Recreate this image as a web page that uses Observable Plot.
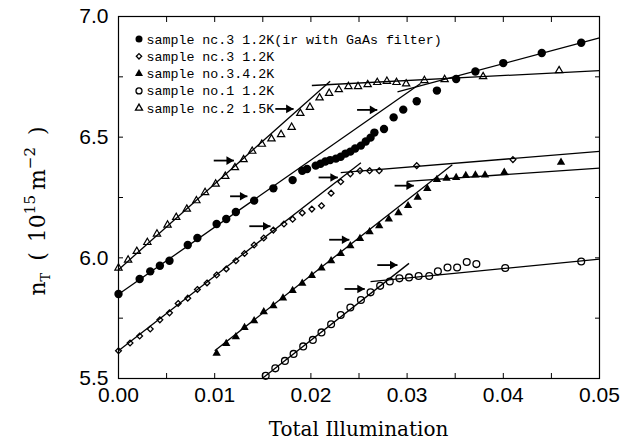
<!DOCTYPE html>
<html><head><meta charset="utf-8">
<script src="https://cdn.jsdelivr.net/npm/d3@7"></script>
<script src="https://cdn.jsdelivr.net/npm/@observablehq/plot@0.6"></script>
<style>
body{margin:0;background:#fff;}
#chart{width:634px;height:440px;}
</style></head><body><div id="chart"></div>
<script>
// ---- data (x = total illumination, y = n_T in 10^15 m^-2) ----
const seriesNames = [
  "sample nc.3 1.2K(ir with GaAs filter)",
  "sample nc.3 1.2K",
  "sample no.3.4.2K",
  "sample no.1 1.2K",
  "sample nc.2 1.5K"
];
const xTicks = [0, 0.005, 0.01, 0.015, 0.02, 0.025, 0.03, 0.035, 0.04, 0.045, 0.05];
const xTickLabels = ["0.00", "", "0.01", "", "0.02", "", "0.03", "", "0.04", "", "0.05"];
const yTicks = [5.5, 5.75, 6.0, 6.25, 6.5, 6.75, 7.0];
const yTickLabels = ["5.5", "", "6.0", "", "6.5", "", "7.0"];

const s3_12K_GaAs = [[0.0000,5.850],[0.0022,5.912],[0.0033,5.944],[0.0043,5.967],[0.0053,5.988],[0.0072,6.053],[0.0082,6.082],[0.0102,6.140],[0.0112,6.161],[0.0122,6.190],[0.0141,6.237],[0.0161,6.288],[0.0181,6.322],[0.0191,6.361],[0.0196,6.368],[0.0205,6.382],[0.0210,6.390],[0.0215,6.399],[0.0220,6.405],[0.0226,6.411],[0.0231,6.419],[0.0236,6.432],[0.0241,6.440],[0.0246,6.453],[0.0252,6.465],[0.0257,6.482],[0.0262,6.498],[0.0266,6.519],[0.0276,6.534],[0.0286,6.582],[0.0296,6.614],[0.0310,6.649],[0.0331,6.693],[0.0351,6.741],[0.0371,6.772],[0.0400,6.807],[0.0440,6.849],[0.0481,6.891]];
const s3_12K = [[0.0000,5.615],[0.0012,5.647],[0.0022,5.676],[0.0033,5.705],[0.0043,5.743],[0.0053,5.772],[0.0062,5.811],[0.0072,5.833],[0.0082,5.869],[0.0092,5.896],[0.0102,5.929],[0.0112,5.954],[0.0122,5.988],[0.0131,6.018],[0.0141,6.053],[0.0151,6.082],[0.0161,6.115],[0.0172,6.140],[0.0181,6.160],[0.0191,6.186],[0.0201,6.202],[0.0211,6.216],[0.0221,6.268],[0.0231,6.315],[0.0241,6.348],[0.0251,6.361],[0.0261,6.361],[0.0271,6.361],[0.0310,6.382],[0.0410,6.407]];
const s3_42K = [[0.0102,5.604],[0.0112,5.645],[0.0122,5.673],[0.0131,5.711],[0.0141,5.739],[0.0151,5.776],[0.0161,5.801],[0.0171,5.833],[0.0181,5.864],[0.0191,5.894],[0.0201,5.926],[0.0211,5.958],[0.0221,5.988],[0.0231,6.018],[0.0241,6.050],[0.0251,6.080],[0.0261,6.108],[0.0271,6.133],[0.0281,6.161],[0.0291,6.186],[0.0301,6.216],[0.0311,6.251],[0.0321,6.287],[0.0331,6.324],[0.0341,6.329],[0.0351,6.333],[0.0361,6.341],[0.0371,6.343],[0.0381,6.343],[0.0401,6.354],[0.0460,6.396]];
const s1_12K = [[0.0153,5.511],[0.0163,5.542],[0.0173,5.573],[0.0182,5.602],[0.0192,5.633],[0.0202,5.660],[0.0211,5.691],[0.0221,5.725],[0.0231,5.763],[0.0241,5.794],[0.0252,5.825],[0.0262,5.857],[0.0272,5.884],[0.0282,5.902],[0.0292,5.915],[0.0302,5.919],[0.0312,5.925],[0.0323,5.925],[0.0332,5.944],[0.0342,5.960],[0.0352,5.960],[0.0362,5.983],[0.0372,5.974],[0.0402,5.958],[0.0481,5.985]];
const s2_15K = [[0.0000,5.958],[0.0010,5.991],[0.0019,6.027],[0.0030,6.064],[0.0040,6.099],[0.0051,6.136],[0.0060,6.168],[0.0071,6.202],[0.0081,6.237],[0.0090,6.271],[0.0101,6.306],[0.0111,6.338],[0.0121,6.374],[0.0130,6.407],[0.0139,6.442],[0.0149,6.471],[0.0159,6.493],[0.0169,6.511],[0.0180,6.541],[0.0189,6.599],[0.0199,6.624],[0.0209,6.663],[0.0219,6.682],[0.0229,6.697],[0.0239,6.710],[0.0249,6.710],[0.0259,6.718],[0.0269,6.727],[0.0279,6.732],[0.0289,6.727],[0.0299,6.721],[0.0318,6.735],[0.0339,6.739],[0.0379,6.751],[0.0458,6.776]];

const fitLines = [
  {x1:0.0000, y1:5.849, x2:0.0314, y2:6.722},
  {x1:0.0290, y1:6.688, x2:0.0500, y2:6.911},
  {x1:0.0000, y1:5.615, x2:0.0252, y2:6.394},
  {x1:0.0231, y1:6.353, x2:0.0500, y2:6.441},
  {x1:0.0100, y1:5.615, x2:0.0347, y2:6.386},
  {x1:0.0300, y1:6.317, x2:0.0500, y2:6.372},
  {x1:0.0150, y1:5.502, x2:0.0302, y2:5.977},
  {x1:0.0262, y1:5.901, x2:0.0500, y2:5.995},
  {x1:0.0000, y1:5.951, x2:0.0220, y2:6.732},
  {x1:0.0201, y1:6.714, x2:0.0500, y2:6.776}
];
const arrows = [
  {x1:0.0163, x2:0.0182, y:6.617},
  {x1:0.0099, x2:0.0120, y:6.403},
  {x1:0.0248, x2:0.0269, y:6.613},
  {x1:0.0116, x2:0.0134, y:6.255},
  {x1:0.0136, x2:0.0158, y:6.131},
  {x1:0.0208, x2:0.0228, y:6.333},
  {x1:0.0219, x2:0.0240, y:6.075},
  {x1:0.0287, x2:0.0307, y:6.299},
  {x1:0.0269, x2:0.0290, y:5.970},
  {x1:0.0235, x2:0.0256, y:5.871}
];

// ---- chart ----
const xFmt = d => xTickLabels[xTicks.findIndex(t => Math.abs(t - d) < 1e-9)] ?? "";
const yFmt = d => yTickLabels[yTicks.findIndex(t => Math.abs(t - d) < 1e-9)] ?? "";
const tickFont = {fontSize: 21, fontFamily: "Liberation Sans, Arial, sans-serif"};
const px = d => d[0], py = d => d[1];

const plot = Plot.plot({
  width: 634, height: 440,
  marginLeft: 118, marginRight: 35, marginTop: 16, marginBottom: 62,
  x: {domain: [0, 0.05]},
  y: {domain: [5.5, 7.0]},
  style: {background: "white", color: "black"},
  marks: [
    Plot.frame({stroke: "black", strokeWidth: 1.2}),
    Plot.axisX(xTicks, {anchor: "bottom", tickSize: -5, tickPadding: 14, tickFormat: xFmt, label: null, ...tickFont}),
    Plot.axisX(xTicks, {anchor: "top", tickSize: -5, tickFormat: () => "", label: null}),
    Plot.axisY(yTicks, {anchor: "left", tickSize: -5, tickPadding: 15, tickFormat: yFmt, label: null, ...tickFont}),
    Plot.axisY(yTicks, {anchor: "right", tickSize: -5, tickFormat: () => "", label: null}),
    Plot.link(fitLines, {x1: "x1", y1: "y1", x2: "x2", y2: "y2", stroke: "black", strokeWidth: 1.3}),
    Plot.dot(s3_12K_GaAs, {x: px, y: py, r: 4.2, fill: "black"}),
    Plot.dot(s3_12K, {x: px, y: py, symbol: "diamond2", r: 2.6, fill: "none", stroke: "black", strokeWidth: 1.3}),
    Plot.dot(s3_42K, {x: px, y: py, symbol: "triangle", r: 3.1, fill: "black"}),
    Plot.dot(s1_12K, {x: px, y: py, symbol: "circle", r: 3.4, fill: "none", stroke: "black", strokeWidth: 1.3}),
    Plot.dot(s2_15K, {x: px, y: py, symbol: "triangle", r: 2.7, fill: "none", stroke: "black", strokeWidth: 1.2}),
    Plot.link(arrows, {x1: "x1", x2: "x2", y1: "y", y2: "y", stroke: "black", strokeWidth: 1.8, insetRight: 4}),
    Plot.dot(arrows, {x: "x2", y: "y", symbol: "triangle", rotate: 90, r: 3.2, fill: "black", dx: -5})
  ]
});
document.getElementById("chart").appendChild(plot);

// ---- legend, axis titles ----
const svg = d3.select(plot);
const legendSyms = [
  {type: d3.symbolCircle, size: Math.PI * 3.5 * 3.5, fill: "black", stroke: "none"},
  {type: d3.symbolDiamond2, size: Math.PI * 2.4 * 2.4, fill: "none", stroke: "black"},
  {type: d3.symbolTriangle, size: Math.PI * 3.0 * 3.0, fill: "black", stroke: "none"},
  {type: d3.symbolCircle, size: Math.PI * 3.0 * 3.0, fill: "none", stroke: "black"},
  {type: d3.symbolTriangle, size: Math.PI * 2.6 * 2.6, fill: "none", stroke: "black"}
];
const lg = svg.append("g");
seriesNames.forEach((name, i) => {
  const yy = 39 + i * 17.3;
  lg.append("path").attr("d", d3.symbol(legendSyms[i].type, legendSyms[i].size)())
    .attr("transform", `translate(139,${yy})`)
    .attr("fill", legendSyms[i].fill).attr("stroke", legendSyms[i].stroke).attr("stroke-width", 1.3);
  lg.append("text").attr("x", 146.5).attr("y", yy + 4.5).attr("text-anchor", "start")
    .attr("font-family", "Liberation Mono, Courier New, monospace").attr("font-size", 13.3)
    .attr("fill", "black").text(name);
});

svg.append("text").attr("x", 358.5).attr("y", 436).attr("text-anchor", "middle")
  .attr("font-family", "DejaVu Serif, serif").attr("font-size", 20).attr("fill", "black")
  .text("Total Illumination");

const yl = svg.append("text").attr("transform", "translate(45,211) rotate(-90)")
  .attr("text-anchor", "middle").attr("font-family", "DejaVu Serif, serif")
  .attr("font-size", 22).attr("fill", "black");
yl.append("tspan").text("n");
yl.append("tspan").attr("dy", 5).attr("font-size", 13).text("T");
yl.append("tspan").attr("dy", -5).attr("dx", 12).text("(");
yl.append("tspan").attr("dx", 10).text("10");
yl.append("tspan").attr("dy", -10).attr("font-size", 15).text("15");
yl.append("tspan").attr("dy", 10).attr("dx", 5).text("m");
yl.append("tspan").attr("dy", -10).attr("font-size", 15).text("−2");
yl.append("tspan").attr("dy", 10).attr("dx", 12).text(")");
</script>
</body></html>
